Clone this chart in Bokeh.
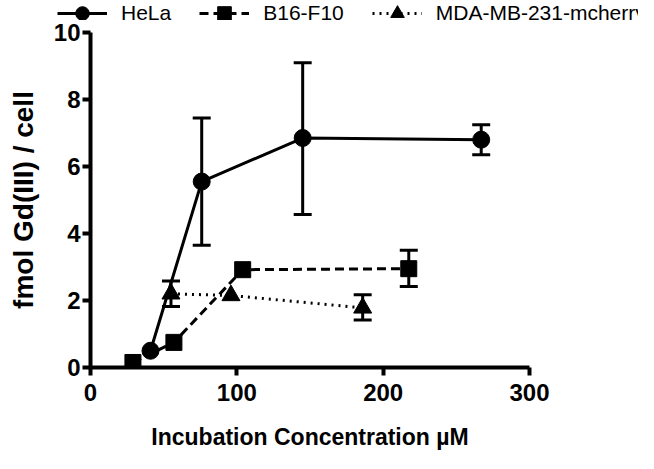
from bokeh.plotting import figure
from bokeh.layouts import column
from bokeh.models import ColumnDataSource, Whisker, TeeHead, Legend, LegendItem, Range1d, FixedTicker
from bokeh.embed import file_html
from bokeh.resources import INLINE

# Data
hela_x = [41, 76, 145, 267]
hela_y = [0.5, 5.55, 6.85, 6.8]
hela_lo = [0.5, 3.65, 4.57, 6.35]
hela_hi = [0.5, 7.45, 9.1, 7.25]

b16_x = [29, 57, 104, 217.5]
b16_y = [0.15, 0.75, 2.92, 2.95]
b16_lo = [0.15, 0.75, 2.92, 2.42]
b16_hi = [0.15, 0.75, 2.92, 3.5]

mda_x = [55, 96, 186]
mda_y = [2.2, 2.15, 1.78]
mda_lo = [1.82, 2.15, 1.42]
mda_hi = [2.58, 2.15, 2.17]

x_ticks = [0, 100, 200, 300]
y_ticks = [0, 2, 4, 6, 8, 10]
series_names = ["HeLa", "B16-F10", "MDA-MB-231-mcherry"]

FONT = "Liberation Sans"

p = figure(width=638, height=433, output_backend="svg", toolbar_location=None,
           x_range=Range1d(0, 300), y_range=Range1d(0, 10),
           min_border_left=90, min_border_right=109, min_border_top=12, min_border_bottom=86)
p.frame_align = False
p.outline_line_color = None
p.grid.visible = False
p.background_fill_color = "white"

for ax in (p.xaxis[0], p.yaxis[0]):
    ax.axis_line_width = 4
    ax.axis_line_color = "black"
    ax.major_tick_line_width = 4
    ax.major_tick_line_color = "black"
    ax.major_tick_out = 8
    ax.major_tick_in = 0
    ax.minor_tick_line_color = None
    ax.major_label_text_font = FONT
    ax.major_label_text_font_style = "bold"
    ax.major_label_text_font_size = "24px"
    ax.major_label_text_color = "black"
    ax.axis_label_text_font = FONT
    ax.axis_label_text_font_style = "bold"
    ax.axis_label_text_color = "black"

p.xaxis.ticker = FixedTicker(ticks=x_ticks)
p.yaxis.ticker = FixedTicker(ticks=y_ticks)
p.xaxis.axis_label = "Incubation Concentration µM"
p.yaxis.axis_label = "fmol Gd(III) / cell"
p.xaxis.axis_label_text_font_size = "23px"
p.yaxis.axis_label_text_font_size = "28px"
p.xaxis.axis_label_standoff = 20
p.yaxis.axis_label_standoff = 12
p.xaxis.major_label_standoff = 8
p.yaxis.major_label_standoff = 2

# Legend strip above the plot (shares the data sources; its ranges show no data)
pl = figure(width=638, height=20, output_backend="svg", toolbar_location=None,
            x_range=Range1d(1000, 1001), y_range=Range1d(1000, 1001),
            min_border=0)
pl.frame_align = False
pl.outline_line_color = None
pl.grid.visible = False
pl.axis.visible = False

items = []
series = [
    (hela_x, hela_y, hela_lo, hela_hi, "circle", 17, "solid"),
    (b16_x, b16_y, b16_lo, b16_hi, "square", 16, "9 5"),
    (mda_x, mda_y, mda_lo, mda_hi, "triangle", 18, "2 5"),
]
for (xs, ys, lo, hi, marker, size, dash), name in zip(series, series_names):
    src = ColumnDataSource(dict(x=xs, y=ys))
    p.line("x", "y", source=src, line_color="black", line_width=3, line_dash=dash)
    p.scatter("x", "y", source=src, marker=marker, size=size,
              fill_color="black", line_color="black")
    keep = [i for i in range(len(xs)) if hi[i] - lo[i] > 0.3]
    esrc = ColumnDataSource(dict(x=[xs[i] for i in keep],
                                 lo=[lo[i] for i in keep],
                                 hi=[hi[i] for i in keep]))
    w = Whisker(base="x", lower="lo", upper="hi", source=esrc,
                line_width=3, line_color="black",
                upper_head=TeeHead(size=18, line_width=3, line_color="black"),
                lower_head=TeeHead(size=18, line_width=3, line_color="black"))
    p.add_layout(w)
    lr = pl.line("x", "y", source=src, line_color="black", line_width=3, line_dash=dash)
    sr = pl.scatter("x", "y", source=src, marker=marker, size=size,
                    fill_color="black", line_color="black")
    items.append(LegendItem(label=name, renderers=[lr, sr]))

legend = Legend(items=items, orientation="horizontal", location=(57, -10),
                label_text_font=FONT, label_text_font_size="21px",
                label_text_color="black", label_height=20,
                glyph_width=50, glyph_height=34, label_standoff=14, spacing=28,
                padding=0, margin=0,
                border_line_alpha=0, background_fill_alpha=0)
pl.add_layout(legend, "center")

layout = column(pl, p, spacing=0)
open("out.html", "w").write(file_html(layout, INLINE))
